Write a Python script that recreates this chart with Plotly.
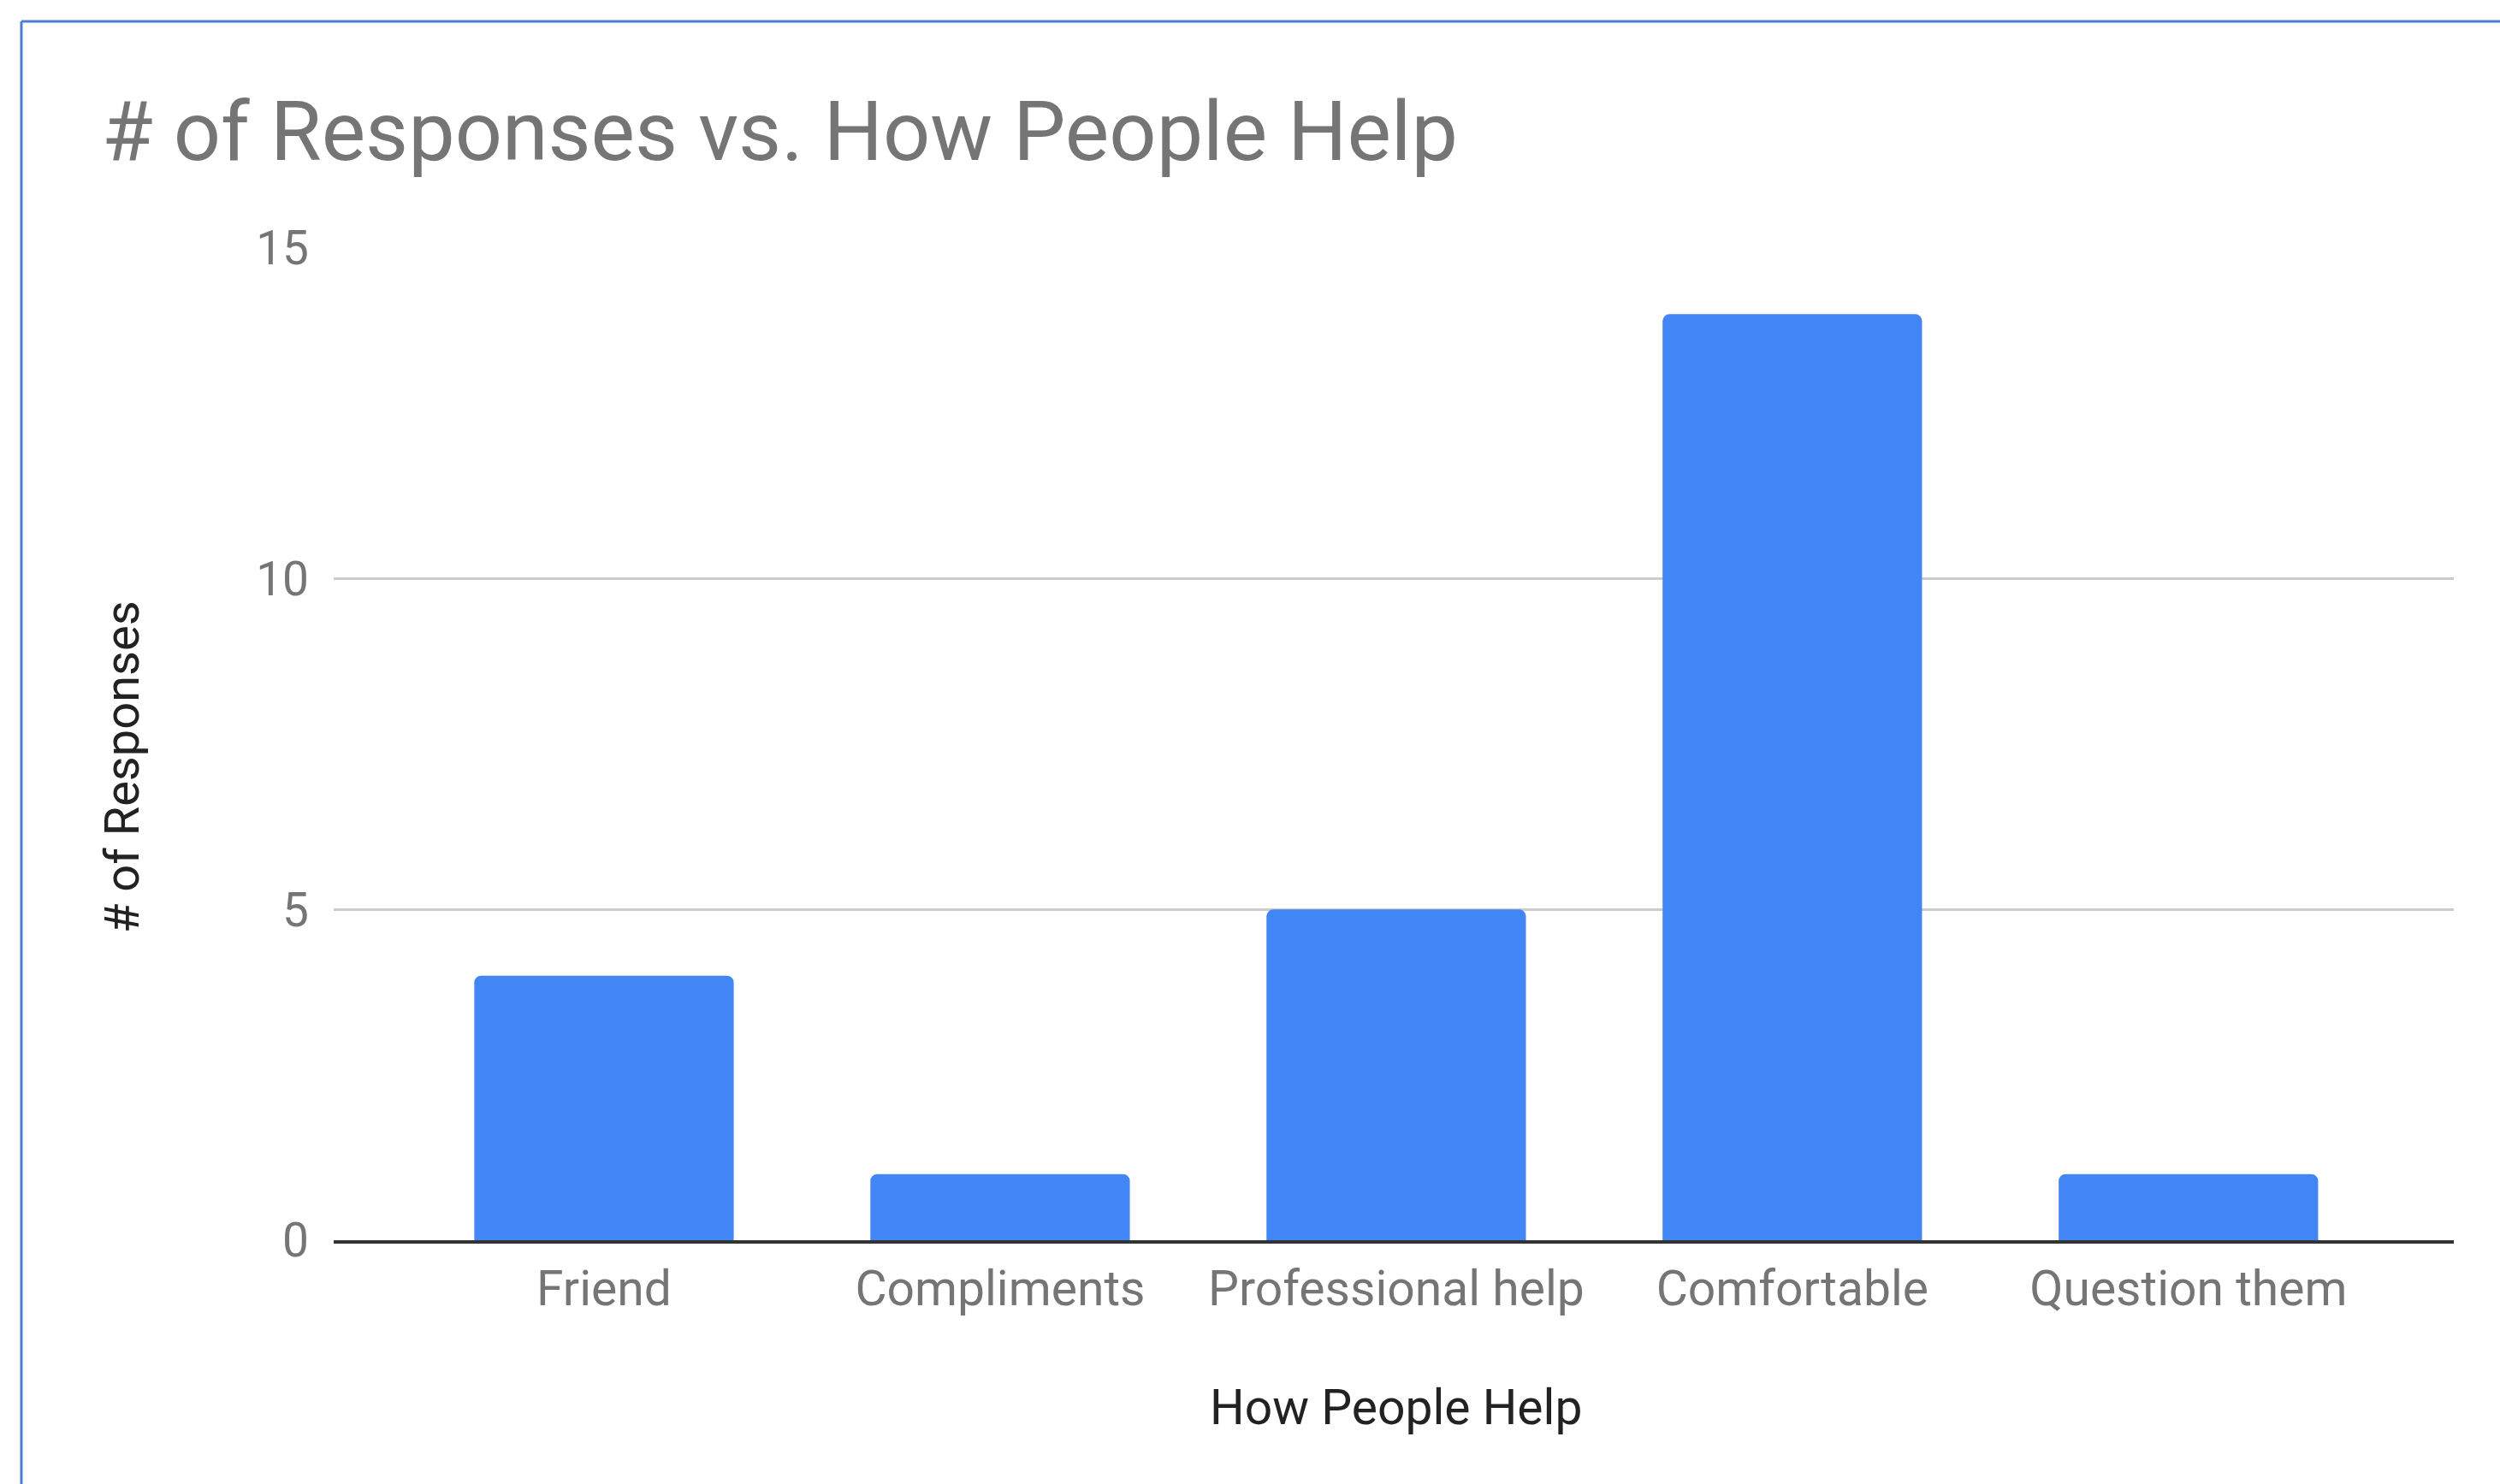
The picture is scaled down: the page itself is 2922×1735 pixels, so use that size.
import plotly.graph_objects as go

# Survey tallies
categories = ["Friend", "Compliments", "Professional help", "Comfortable", "Question them"]
responses = [4, 1, 5, 14, 1]
y_ticks = [0, 5, 10, 15]

W, H = 2922, 1735
# plot area in pixels
L, R, T, B = 390, 2868, 290, 1450
pw, ph = R - L, B - T


def px_x(px):
    return (px - L) / pw


def px_y(py):
    return (B - py) / ph


fig = go.Figure(
    go.Bar(
        x=list(range(len(categories))),
        y=responses,
        width=0.655,
        marker=dict(color="#4285F4", line=dict(width=0), cornerradius=8),
        hoverinfo="x+y",
    )
)

font_family = "Roboto, Arial, sans-serif"

fig.update_layout(
    width=W,
    height=H,
    margin=dict(l=L, r=W - R, t=T, b=H - B),
    paper_bgcolor="white",
    plot_bgcolor="white",
    showlegend=False,
    font=dict(family=font_family),
    title=dict(
        text="# of Responses vs. How People Help",
        font=dict(size=97, color="#757575", family=font_family),
        x=119 / W,
        xanchor="left",
        xref="container",
        y=1 - 153 / H,
        yanchor="middle",
        yref="container",
    ),
    xaxis=dict(
        range=[-0.6825, 4.67],
        tickmode="array",
        tickvals=list(range(len(categories))),
        ticktext=categories,
        tickfont=dict(size=57, color="#757575"),
        showgrid=False,
        zeroline=False,
        showline=True,
        linecolor="#333333",
        linewidth=3.5,
        ticks="",
        ticklabelstandoff=4,
    ),
    yaxis=dict(
        range=[0, 15],
        tickmode="array",
        tickvals=y_ticks,
        tickfont=dict(size=55, color="#757575"),
        showgrid=True,
        gridcolor="#cccccc",
        gridwidth=3,
        zeroline=False,
        showline=False,
        ticks="",
        ticklabelstandoff=28,
    ),
    annotations=[
        dict(
            text="How People Help",
            x=px_x(1631),
            y=px_y(1645),
            xref="paper",
            yref="paper",
            xanchor="center",
            yanchor="middle",
            showarrow=False,
            font=dict(size=57, color="#222222"),
        ),
        dict(
            text="# of Responses",
            x=px_x(143),
            y=px_y(897),
            xref="paper",
            yref="paper",
            xanchor="center",
            yanchor="middle",
            textangle=-90,
            showarrow=False,
            font=dict(size=56, color="#222222"),
        ),
    ],
    shapes=[
        # card border, top and left edges
        dict(type="line", xref="paper", yref="paper",
             x0=px_x(25), x1=px_x(W + 5), y0=px_y(25), y1=px_y(25),
             line=dict(color="#4a7fd4", width=3)),
        dict(type="line", xref="paper", yref="paper",
             x0=px_x(25), x1=px_x(25), y0=px_y(25), y1=px_y(H + 5),
             line=dict(color="#4a7fd4", width=3)),
    ],
)

fig.write_html("out.html")
